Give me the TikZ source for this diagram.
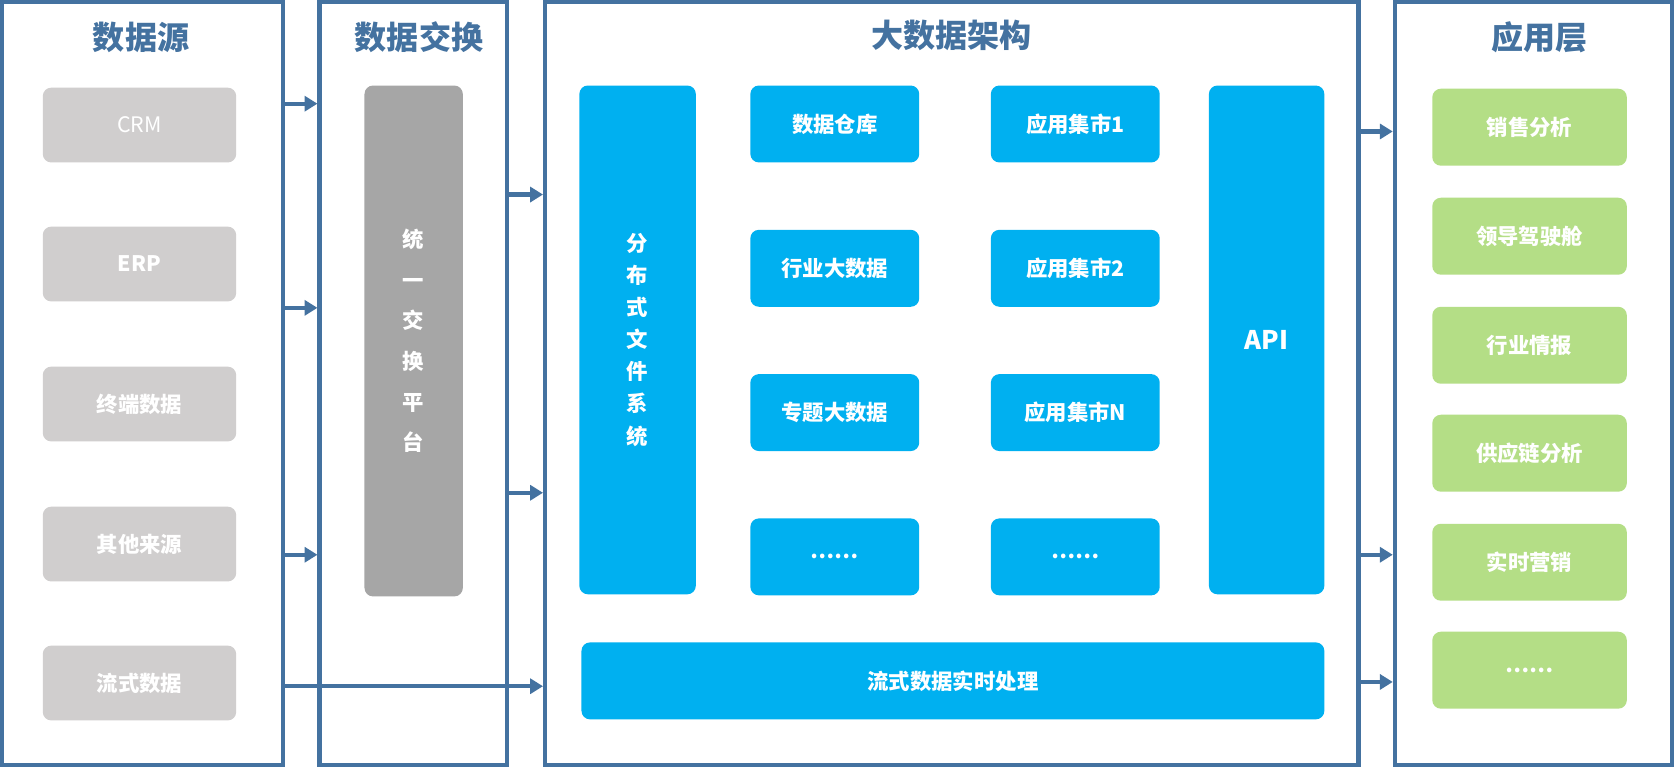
\documentclass[tikz,border=0pt]{standalone}
\usepackage{fontspec}
\setmainfont{Noto Sans CJK SC}
\usetikzlibrary{arrows.meta}
\definecolor{frame}{RGB}{68,114,160}
\definecolor{gsrc}{RGB}{208,206,206}
\definecolor{gex}{RGB}{166,166,166}
\definecolor{cblue}{RGB}{0,176,240}
\definecolor{cgreen}{RGB}{180,222,134}
\newcommand\mybox[7]{\node[#6, minimum width={(#4-#2)*0.5pt}, minimum height={(#5-#3)*0.5pt}] (#1) at ({(#2+#4)/2},{(#3+#5)/2}) {#7};}
\begin{document}
\begin{tikzpicture}[x=0.5pt,y=-0.5pt,
  panel/.style={draw=frame,line width=2pt,inner sep=0,fill=white},
  title/.style={text=frame,font=\fontsize{15}{18}\selectfont\bfseries},
  bx/.style={rounded corners=4pt,inner sep=0,text=white,font=\fontsize{10}{15}\selectfont\bfseries,align=center},
  src/.style={bx,fill=gsrc},
  ex/.style={bx,fill=gex},
  bl/.style={bx,fill=cblue},
  gr/.style={bx,fill=cgreen},
  arr/.style={draw=frame,line width=2pt,-{Triangle[length=6pt,width=7pt]}}]
\useasboundingbox (0,0) rectangle (1568,718);
\mybox{p1}{2}{2}{265}{716}{panel}{}
\mybox{p2}{299}{2}{474}{716}{panel}{}
\mybox{p3}{510}{2}{1271}{716}{panel}{}
\mybox{p4}{1305}{2}{1564}{716}{panel}{}
\node[title] (t1) at (132,35) {数据源};
\node[title] (t2) at (392,35) {数据交换};
\node[title] (t3) at (890,33) {大数据架构};
\node[title] (t4) at (1440,35) {应用层};
\mybox{s1}{40}{82}{221}{152}{src}{\mdseries CRM}
\mybox{s2}{40}{212}{221}{282}{src}{ERP}
\mybox{s3}{40}{343}{221}{413}{src}{终端数据}
\mybox{s4}{40}{474}{221}{544}{src}{其他来源}
\mybox{s5}{40}{604}{221}{674}{src}{流式数据}
\mybox{e1}{341}{80}{433}{558}{ex}{统\\[4pt]一\\[4pt]交\\[4pt]换\\[4pt]平\\[4pt]台}
\mybox{f1}{542}{80}{651}{556}{bl}{分\\布\\式\\文\\件\\系\\统}
\mybox{m1}{702}{80}{860}{152}{bl}{数据仓库}
\mybox{m2}{702}{215}{860}{287}{bl}{行业大数据}
\mybox{m3}{702}{350}{860}{422}{bl}{专题大数据}
\mybox{m4}{702}{485}{860}{557}{bl}{……}
\mybox{n1}{927}{80}{1085}{152}{bl}{应用集市1}
\mybox{n2}{927}{215}{1085}{287}{bl}{应用集市2}
\mybox{n3}{927}{350}{1085}{422}{bl}{应用集市N}
\mybox{n4}{927}{485}{1085}{557}{bl}{……}
\mybox{api}{1131}{80}{1239}{556}{bl}{\fontsize{12}{15}\selectfont API}
\mybox{st}{544}{601}{1239}{673}{bl}{流式数据实时处理}
\mybox{g1}{1340}{83}{1522}{155}{gr}{销售分析}
\mybox{g2}{1340}{185}{1522}{257}{gr}{领导驾驶舱}
\mybox{g3}{1340}{287}{1522}{359}{gr}{行业情报}
\mybox{g4}{1340}{388}{1522}{460}{gr}{供应链分析}
\mybox{g5}{1340}{490}{1522}{562}{gr}{实时营销}
\mybox{g6}{1340}{591}{1522}{663}{gr}{……}
\foreach \y in {97,288,519} \draw[arr] (p1.east |- 0,\y) -- (p2.west |- 0,\y);
\foreach \y in {182,461} \draw[arr] (p2.east |- 0,\y) -- (p3.west |- 0,\y);
\draw[arr] (p1.east |- 0,642) -- (p3.west |- 0,642);
\foreach \y in {123,519,638} \draw[arr] (p3.east |- 0,\y) -- (p4.west |- 0,\y);
\end{tikzpicture}
\end{document}
